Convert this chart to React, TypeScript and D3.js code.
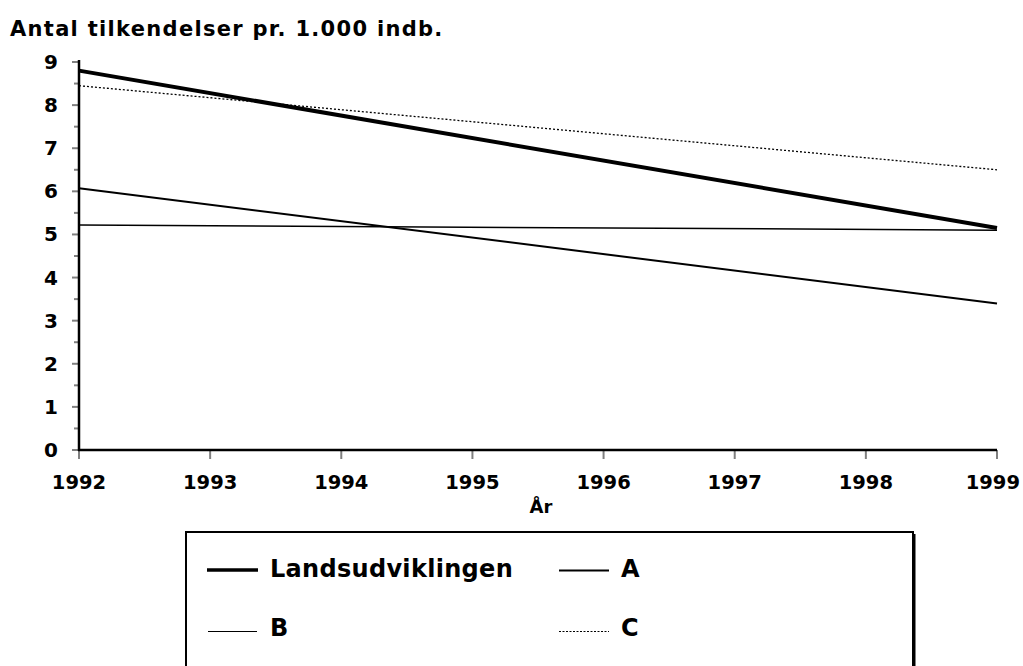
import { useRef, useEffect } from "react"
import * as d3 from "d3"

const years = [1992, 1993, 1994, 1995, 1996, 1997, 1998, 1999]
const yTicks = [0, 1, 2, 3, 4, 5, 6, 7, 8, 9]

// values read at the first and last year (the lines are straight)
const seriesYears = [1992, 1999]
const landsudviklingen = [8.8, 5.15]
const serieA = [6.07, 3.4]
const serieB = [5.22, 5.1]
const serieC = [8.45, 6.5]

const series = [
  { name: "Landsudviklingen", values: landsudviklingen, width: 4, dash: "" },
  { name: "A", values: serieA, width: 2, dash: "" },
  { name: "B", values: serieB, width: 1.5, dash: "" },
  { name: "C", values: serieC, width: 1.3, dash: "2,2" },
]

const W = 1023
const H = 666
const FONT = "'DejaVu Sans', Verdana, sans-serif"

export default function App() {
  const svgRef = useRef<SVGSVGElement>(null)

  useEffect(() => {
    if (!svgRef.current) return
    const svg = d3.select(svgRef.current)
    svg.selectAll("*").remove()

    const x = d3.scaleLinear().domain([1992, 1999]).range([79, 997])
    const y = d3.scaleLinear().domain([0, 9]).range([450, 62])

    // title
    svg.append("text")
      .attr("x", 10).attr("y", 36)
      .attr("font-family", FONT).attr("font-weight", "bold").attr("font-size", 21)
      .attr("letter-spacing", 1.3)
      .text("Antal tilkendelser pr. 1.000 indb.")

    // y ticks (major + minor)
    const g = svg.append("g")
    d3.range(0, 9.01, 0.5).forEach((v) => {
      const major = Math.abs(v - Math.round(v)) < 1e-6
      g.append("line")
        .attr("x1", major ? 72 : 74).attr("x2", 79)
        .attr("y1", y(v)).attr("y2", y(v))
        .attr("stroke", "#808080").attr("stroke-width", 2)
    })
    yTicks.forEach((v) => {
      g.append("text")
        .attr("x", 58).attr("y", y(v) + 7)
        .attr("text-anchor", "end")
        .attr("font-family", FONT).attr("font-weight", "bold").attr("font-size", 20)
        .text(v)
    })

    // x ticks
    years.forEach((yr, i) => {
      g.append("line")
        .attr("x1", x(yr)).attr("x2", x(yr))
        .attr("y1", 450).attr("y2", 459)
        .attr("stroke", "#808080").attr("stroke-width", 2)
      const last = i === years.length - 1
      g.append("text")
        .attr("x", last ? 1020 : x(yr)).attr("y", 489)
        .attr("text-anchor", last ? "end" : "middle")
        .attr("font-family", FONT).attr("font-weight", "bold").attr("font-size", 19.5)
        .text(yr)
    })
    g.append("text")
      .attr("x", 541).attr("y", 513)
      .attr("text-anchor", "middle")
      .attr("font-family", FONT).attr("font-weight", "bold").attr("font-size", 18)
      .text("År")

    // axes
    g.append("line").attr("x1", 79).attr("x2", 79).attr("y1", 60).attr("y2", 451)
      .attr("stroke", "#000").attr("stroke-width", 2.5)
    g.append("line").attr("x1", 78).attr("x2", 997).attr("y1", 450).attr("y2", 450)
      .attr("stroke", "#000").attr("stroke-width", 2.5)

    // lines
    const line = d3.line<number>()
      .x((_, i) => x(seriesYears[i]))
      .y((d) => y(d))
    series.forEach((s) => {
      svg.append("path")
        .datum(s.values)
        .attr("fill", "none")
        .attr("stroke", "#000")
        .attr("stroke-width", s.width)
        .attr("stroke-dasharray", s.dash || null)
        .attr("d", line)
    })

    // legend
    const lg = svg.append("g")
    lg.append("rect")
      .attr("x", 186).attr("y", 532).attr("width", 727).attr("height", 160)
      .attr("fill", "#fff").attr("stroke", "#000").attr("stroke-width", 2)
    lg.append("line").attr("x1", 914).attr("x2", 914).attr("y1", 534).attr("y2", 666)
      .attr("stroke", "#000").attr("stroke-width", 3)

    const pos = [
      { x1: 207, x2: 258, tx: 270, ly: 570, ty: 577 },
      { x1: 559, x2: 609, tx: 621, ly: 570.5, ty: 577 },
      { x1: 208, x2: 257, tx: 270, ly: 631.5, ty: 636 },
      { x1: 559, x2: 609, tx: 621, ly: 631.5, ty: 636 },
    ]
    series.forEach((s, i) => {
      const p = pos[i]
      lg.append("line")
        .attr("x1", p.x1).attr("x2", p.x2)
        .attr("y1", p.ly).attr("y2", p.ly)
        .attr("stroke", "#000")
        .attr("stroke-width", i === 0 ? 3.5 : i === 1 ? 2 : 1)
        .attr("stroke-dasharray", s.dash ? "2,1.5" : null)
      lg.append("text")
        .attr("x", p.tx).attr("y", p.ty)
        .attr("font-family", FONT)
        .attr("font-weight", "bold")
        .attr("font-size", 24)
        .attr("letter-spacing", 0.3)
        .text(s.name)
    })
  }, [])

  return (
    <svg
      ref={svgRef}
      width={W}
      height={H}
      viewBox={`0 0 ${W} ${H}`}
      style={{ position: "absolute", left: 0, top: 0, background: "#fff" }}
    />
  )
}
